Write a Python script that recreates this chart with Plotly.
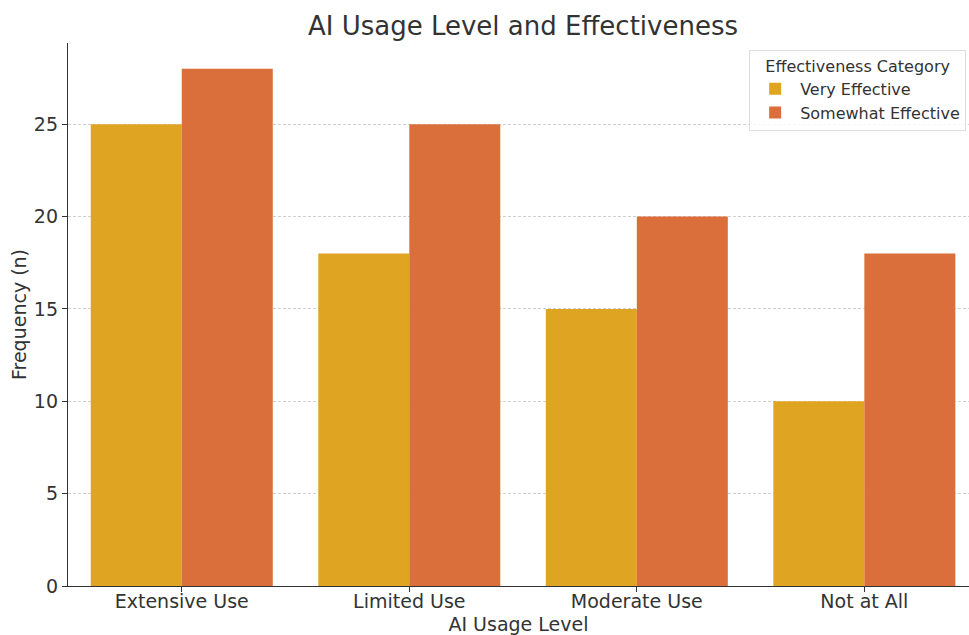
import plotly.graph_objects as go

# Survey results: frequency of effectiveness ratings per AI usage level
usage_levels = ["Extensive Use", "Limited Use", "Moderate Use", "Not at All"]
very_effective = [25, 18, 15, 10]
somewhat_effective = [28, 25, 20, 18]

series_names = ["Very Effective", "Somewhat Effective"]
series_colors = ["#DFA421", "#DB6F3B"]

FONT = "DejaVu Sans, Liberation Sans, sans-serif"
TEXT = "#333333"

fig = go.Figure()
for name, values, color in zip(series_names, [very_effective, somewhat_effective], series_colors):
    fig.add_trace(go.Bar(
        x=usage_levels,
        y=values,
        name=name,
        marker=dict(color=color, line=dict(width=0)),
    ))

fig.update_layout(
    width=969,
    height=635,
    margin=dict(l=68, r=0, t=43, b=49),
    paper_bgcolor="white",
    plot_bgcolor="white",
    font=dict(family=FONT, color=TEXT, size=19),
    barmode="group",
    bargap=0.2,
    bargroupgap=0,
    title=dict(
        text="AI Usage Level and Effectiveness",
        font=dict(size=26, color=TEXT),
        x=523 / 969,
        xanchor="center",
        xref="container",
        y=1 - 26 / 635,
        yanchor="middle",
        yref="container",
    ),
    legend=dict(
        title=dict(text="Effectiveness Category", side="top center", font=dict(size=16)),
        font=dict(size=16),
        x=0.756,
        xanchor="left",
        y=0.987,
        yanchor="top",
        bgcolor="rgba(255,255,255,0.8)",
        bordercolor="#dddddd",
        borderwidth=1,
        itemwidth=40,
        tracegroupgap=2,
    ),
    showlegend=True,
)

fig.update_xaxes(
    range=[-0.5, 3.46],
    automargin=False,
    showline=True,
    linecolor="#333333",
    linewidth=1.3,
    ticks="outside",
    ticklen=5,
    tickcolor="#333333",
    showgrid=False,
    tickfont=dict(size=19),
    ticklabelstandoff=-7,
    title=dict(text="AI Usage Level", font=dict(size=19), standoff=7),
)

fig.update_yaxes(
    range=[0, 29.4],
    automargin=False,
    tickvals=[0, 5, 10, 15, 20, 25],
    showline=True,
    linecolor="#333333",
    linewidth=1.3,
    ticks="outside",
    ticklen=5,
    tickcolor="#333333",
    showgrid=True,
    gridcolor="#d0d0d0",
    griddash="3px,2px",
    gridwidth=1,
    zeroline=False,
    tickfont=dict(size=19),
    title=dict(text="Frequency (n)", font=dict(size=19), standoff=2),
)

fig.write_html("out.html")
